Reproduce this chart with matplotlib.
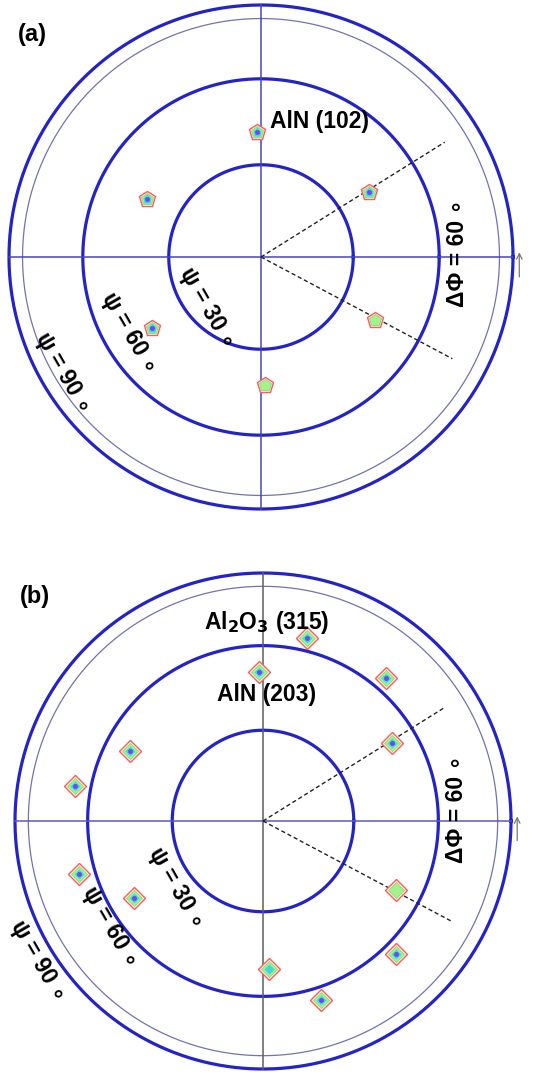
import numpy as np
import matplotlib.pyplot as plt

plt.rcParams['font.family'] = ['Liberation Sans', 'DejaVu Sans']

# pole positions: azimuth phi (deg) and tilt psi (deg)
a_phi = [31, 92, 153, 213, 272, 331]
a_psi = [41.5, 41.2, 42.2, 42.8, 42.2, 42.8]
a_level = [4, 4, 4, 4, 2, 2]

b_aln_phi = [31, 91.5, 152, 211, 272.3, 332.5]
b_aln_psi = [51.0, 50.3, 50.7, 50.7, 50.0, 50.7]
b_aln_level = [4, 4, 4, 4, 3, 2]

b_sap_phi = [49.3, 76.5, 169.5, 196, 288, 315]
b_sap_psi = [65.2, 64.8, 66.0, 66.0, 64.8, 64.8]
b_sap_level = [4, 4, 4, 4, 4, 4]

psi_rings = [30, 60, 90]
thin_ring = 84
dphi_lines = [32, -28]

W, H = 535, 1081
THICK = '#2323c8'
FS = 16.5


def radius(psi):
    # equal-area projection, psi = 90 maps to 1
    return np.sqrt(2) * np.sin(np.radians(psi) / 2)


def to_xy(phi, psi):
    r = radius(np.array(psi))
    t = np.radians(np.array(phi))
    return r * np.cos(t), r * np.sin(t)


def make_axes(fig, cx, cy, R, half=272):
    ax = fig.add_axes([(cx - half) / W, 1 - (cy + half) / H, 2 * half / W, 2 * half / H])
    ax.set_xlim(-half / R, half / R)
    ax.set_ylim(-half / R, half / R)
    ax.set_aspect('equal')
    ax.axis('off')
    return ax


def draw_frame(ax, vcolor, hcolor):
    t = np.linspace(0, 2 * np.pi, 400)
    for psi in psi_rings:
        r = radius(psi)
        ax.plot(r * np.cos(t), r * np.sin(t), color=THICK, lw=2.3, clip_on=False)
    r = radius(thin_ring)
    ax.plot(r * np.cos(t), r * np.sin(t), color='#7272b4', lw=0.9, clip_on=False)

    ax.plot([-1, 1], [0, 0], color=hcolor, lw=1.1)
    ax.plot([0, 0], [-1, 1], color=vcolor, lw=1.1, clip_on=False)

    for ang in dphi_lines:
        ang = np.radians(ang)
        ax.plot([0, 0.86 * np.cos(ang)], [0, 0.86 * np.sin(ang)],
                color='#222222', lw=1.0, ls=(0, (3, 2)))

    ax.annotate('', xy=(1.025, 0.03), xytext=(1.025, -0.09),
                arrowprops=dict(arrowstyle='->', color='#777777', lw=0.9),
                annotation_clip=False)


def draw_spots(ax, phi, psi, level, marker, size=11):
    x, y = to_xy(phi, psi)
    for xi, yi, lv in zip(x, y, level):
        ax.plot(xi, yi, marker=marker, ms=size, mfc='#fff4f0', mec='#ff5a5a', mew=1.0)
        if lv >= 2:
            ax.plot(xi, yi, marker=marker, ms=size - 3, mfc='#a8f08c', mec='#7ee07a', mew=0.6)
        if lv >= 3:
            ax.plot(xi, yi, marker=marker, ms=size - 5.5, mfc='#3ed8e0', mec='none')
        if lv >= 4:
            ax.plot(xi, yi, marker='o', ms=3, mfc='#8a3cf0', mec='#5050ff', mew=0.5)


def psi_labels(ax, spots):
    for (x, y), psi in zip(spots, psi_rings):
        ax.text(x, y, 'ψ = %d ∘' % psi, rotation=-60, rotation_mode='anchor',
                ha='center', va='center', fontsize=FS, fontweight='bold')


fig = plt.figure(figsize=(5.35, 10.81), dpi=100)

# (a) AlN (102)
ax = make_axes(fig, 261, 257, 252)
draw_frame(ax, '#4646b4', '#4646b4')
draw_spots(ax, a_phi, a_psi, a_level, 'p', size=12)
ax.text(0.036, 0.536, 'AlN (102)', ha='left', va='center', fontsize=FS, fontweight='bold')
psi_labels(ax, [(-0.214, -0.202), (-0.524, -0.302), (-0.786, -0.460)])
ax.text(0.778, 0.016, 'ΔΦ = 60 ∘', rotation=90, ha='center', va='center',
        fontsize=FS, fontweight='bold')
fig.text(18 / W, 1 - 34 / H, '(a)', ha='left', va='center', fontsize=17, fontweight='bold')

# (b) AlN (203) and Al2O3 (315)
ax = make_axes(fig, 263, 821, 248)
draw_frame(ax, '#5e5e5e', '#5a5ab4')
draw_spots(ax, b_sap_phi, b_sap_psi, b_sap_level, 'D')
draw_spots(ax, b_aln_phi, b_aln_psi, b_aln_level, 'D')
ax.text(0.016, 0.802, 'Al$_\\mathbf{2}$O$_\\mathbf{3}$ (315)', ha='center', va='center',
        fontsize=FS, fontweight='bold')
ax.text(0.016, 0.512, 'AlN (203)', ha='center', va='center', fontsize=FS, fontweight='bold')
psi_labels(ax, [(-0.351, -0.270), (-0.617, -0.427), (-0.907, -0.565)])
ax.text(0.782, 0.048, 'ΔΦ = 60 ∘', rotation=90, ha='center', va='center',
        fontsize=FS, fontweight='bold')
fig.text(20 / W, 1 - 597 / H, '(b)', ha='left', va='center', fontsize=17, fontweight='bold')

plt.savefig('out.png', dpi=100)
